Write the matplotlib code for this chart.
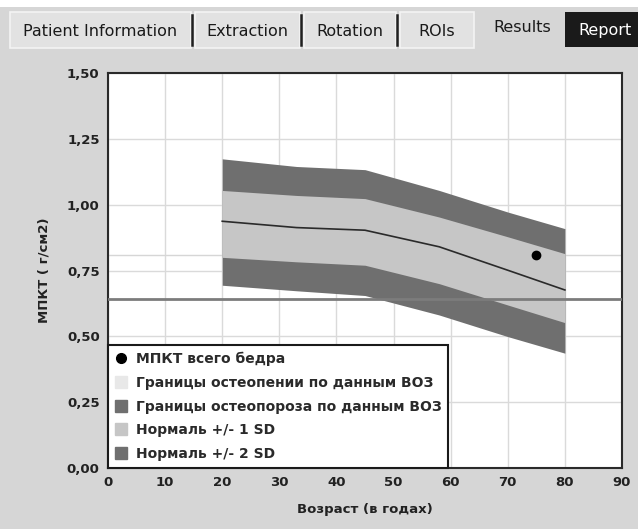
import numpy as np
import matplotlib.pyplot as plt
from matplotlib.patches import Rectangle
from matplotlib.lines import Line2D
from matplotlib.ticker import FuncFormatter

# reference curves (age in years, BMD g/cm2)
ages = [20, 33, 45, 58, 70, 80]
plus2sd = [1.174, 1.145, 1.133, 1.054, 0.972, 0.909]
plus1sd = [1.054, 1.035, 1.023, 0.953, 0.878, 0.814]
mean_bmd = [0.937, 0.913, 0.903, 0.840, 0.751, 0.676]
minus1sd = [0.800, 0.783, 0.770, 0.700, 0.619, 0.552]
minus2sd = [0.694, 0.673, 0.655, 0.581, 0.499, 0.436]

patient_age = 75
patient_bmd = 0.81
threshold = 0.64

x_ticks = [0, 10, 20, 30, 40, 50, 60, 70, 80, 90]
y_ticks = [0.0, 0.25, 0.5, 0.75, 1.0, 1.25, 1.5]

tabs = ['Patient Information', 'Extraction', 'Rotation', 'ROIs', 'Results', 'Report']

legend_labels = ['МПКТ всего бедра',
                 'Границы остеопении по данным ВОЗ',
                 'Границы остеопороза по данным ВОЗ',
                 'Нормаль +/- 1 SD',
                 'Нормаль +/- 2 SD']

W, H = 638, 529
BG = '#d6d6d6'
DARK = '#6f6f6f'
LIGHT = '#c6c6c6'

fig = plt.figure(figsize=(W / 100, H / 100), dpi=100, facecolor=BG)


def fx(px):
    return px / W


def fy(py):
    return 1 - py / H


# white strip on top + tab bar
fig.add_artist(Rectangle((0, fy(7)), 1, 7 / H, transform=fig.transFigure,
                         facecolor='white', edgecolor='none'))
tab_edges = [8, 193, 302, 398, 476, 564, 638]
for i, name in enumerate(tabs):
    x0, x1 = tab_edges[i], tab_edges[i + 1]
    if name == 'Report':
        fig.add_artist(Rectangle((fx(x0 + 1), fy(47)), fx(x1 - x0), 35 / H,
                                 transform=fig.transFigure, facecolor='#1a1a1a',
                                 edgecolor='none'))
        fig.text(fx((x0 + x1) / 2 + 4), fy(31), name, color='white',
                 fontsize=11.5, ha='center', va='center')
    elif name == 'Results':
        fig.text(fx((x0 + x1) / 2 + 2), fy(28), name, color='#1a1a1a',
                 fontsize=11.5, ha='center', va='center')
    else:
        fig.add_artist(Rectangle((fx(x0 + 2), fy(48)), fx(x1 - x0 - 4), 36 / H,
                                 transform=fig.transFigure, facecolor='#e2e2e2',
                                 edgecolor='#f4f4f4', linewidth=1.2))
        fig.text(fx((x0 + x1) / 2), fy(31), name, color='#1a1a1a',
                 fontsize=11.5, ha='center', va='center')
        if name != 'ROIs':
            fig.add_artist(Line2D([fx(x1 - 1), fx(x1 - 1)], [fy(15), fy(45)],
                                  transform=fig.transFigure, color='#202020',
                                  linewidth=1.8))

ax = fig.add_axes([fx(108), fy(468), fx(622 - 108), (468 - 73) / H])
ax.set_facecolor('white')
ax.set_xlim(0, 90)
ax.set_ylim(0, 1.5)

ax.set_xticks(x_ticks)
ax.set_yticks(y_ticks)
ax.yaxis.set_major_formatter(FuncFormatter(lambda v, p: f'{v:.2f}'.replace('.', ',')))
ax.grid(True, color='#dadada', linewidth=1.0, zorder=0)
ax.set_axisbelow(True)
ax.tick_params(length=0, pad=6, labelsize=9.5, labelcolor='#222222')
for lab in ax.get_xticklabels() + ax.get_yticklabels():
    lab.set_fontweight('bold')
for sp in ax.spines.values():
    sp.set_color('#2a2a2a')
    sp.set_linewidth(1.5)

ax.axhline(patient_bmd, color='#d6d6d6', linewidth=1.0, zorder=1)
ax.fill_between(ages, minus2sd, plus2sd, color=DARK, linewidth=0, zorder=2)
ax.fill_between(ages, minus1sd, plus1sd, color=LIGHT, linewidth=0, zorder=3)
ax.plot(ages, mean_bmd, color='#2a2a2a', linewidth=1.2, zorder=4)
ax.axhline(threshold, color='#7c7c7c', linewidth=2.0, zorder=5)
ax.plot([patient_age], [patient_bmd], 'o', color='black', markersize=6, zorder=6)

ax.set_xlabel('Возраст (в годах)', fontsize=9.5, fontweight='bold', color='#222222',
              labelpad=10)
ax.set_ylabel('МПКТ ( г/см2)', fontsize=9.5, fontweight='bold', color='#222222',
              labelpad=12)

handles = [
    Line2D([], [], marker='o', linestyle='none', color='black', markersize=7),
    Line2D([], [], marker='s', linestyle='none', color='#e8e8e8', markersize=8),
    Line2D([], [], marker='s', linestyle='none', color=DARK, markersize=8),
    Line2D([], [], marker='s', linestyle='none', color=LIGHT, markersize=8),
    Line2D([], [], marker='s', linestyle='none', color=DARK, markersize=8),
]
leg = ax.legend(handles, legend_labels, loc='lower left', bbox_to_anchor=(0, 0),
                borderaxespad=0, fancybox=False, framealpha=1, edgecolor='#1a1a1a',
                handlelength=0.8, handletextpad=0.7, labelspacing=0.7,
                borderpad=0.5, prop={'size': 10, 'weight': 'bold'})
leg.get_frame().set_linewidth(1.5)
leg.set_zorder(10)
for t in leg.get_texts():
    t.set_color('#2a2a2a')

fig.savefig('out.png', dpi=100, facecolor=BG)
